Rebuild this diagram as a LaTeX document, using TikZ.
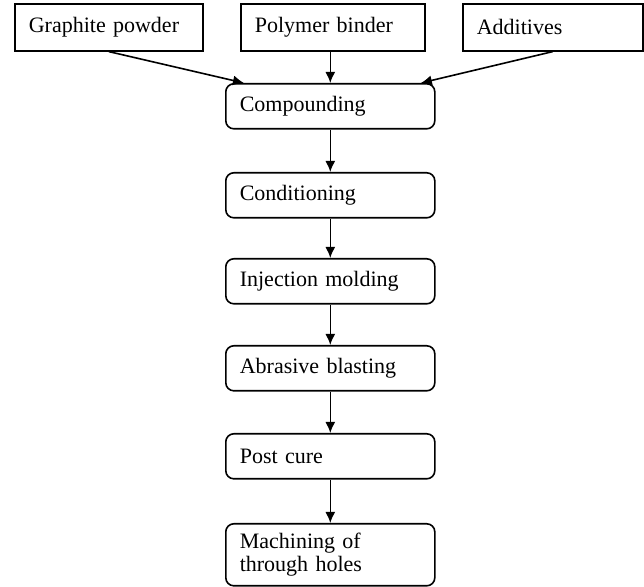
\documentclass[tikz,border=0pt]{standalone}
\usepackage{fontspec}
\setmainfont{Liberation Serif}
\usetikzlibrary{arrows.meta,calc}
\begin{document}
\begin{tikzpicture}[x=0.5pt,y=-0.5pt,
  every node/.style={font=\fontsize{11}{11.5}\selectfont},
  srcbox/.style={draw,line width=0.8pt,anchor=north west,inner xsep=7pt,inner ysep=0pt,
    minimum width=94pt,minimum height=23.5pt,text width=80pt,align=left},
  procbox/.style={draw,line width=0.8pt,rounded corners=4pt,anchor=north west,inner xsep=7pt,inner ysep=0pt,
    minimum width=104.5pt,minimum height=22.5pt,text width=90.5pt,align=left},
  arr/.style={line width=0.8pt,-{Latex[length=5.5pt,width=5pt]}}]
\useasboundingbox (0,0) rectangle (644,587);
\node[srcbox] (g) at (14,3) {Graphite powder};
\node[srcbox,minimum width=92pt,text width=78pt] (p) at (240,3) {Polymer binder};
\node[srcbox,minimum width=90pt,text width=76pt] (a) at (462,3) {Additives};
\node[procbox] (c1) at (225,83) {Compounding};
\node[procbox] (c2) at (225,172) {Conditioning};
\node[procbox] (c3) at (225,258) {Injection molding};
\node[procbox] (c4) at (225,345) {Abrasive blasting};
\node[procbox] (c5) at (225,433) {Post cure};
\node[procbox,minimum height=31pt] (c6) at (225,523) {Machining of\\through holes};
\coordinate (cl) at ($(c1.north west)!0.09!(c1.north east)$);
\coordinate (cr) at ($(c1.north west)!0.93!(c1.north east)$);
\draw[arr] (g.south) -- (cl);
\draw[arr] (c1.north |- p.south) -- (c1.north);
\draw[arr] (a.south) -- (cr);
\draw[arr] (c1.south) -- (c2.north);
\draw[arr] (c2.south) -- (c3.north);
\draw[arr] (c3.south) -- (c4.north);
\draw[arr] (c4.south) -- (c5.north);
\draw[arr] (c5.south) -- (c6.north);
\end{tikzpicture}
\end{document}
